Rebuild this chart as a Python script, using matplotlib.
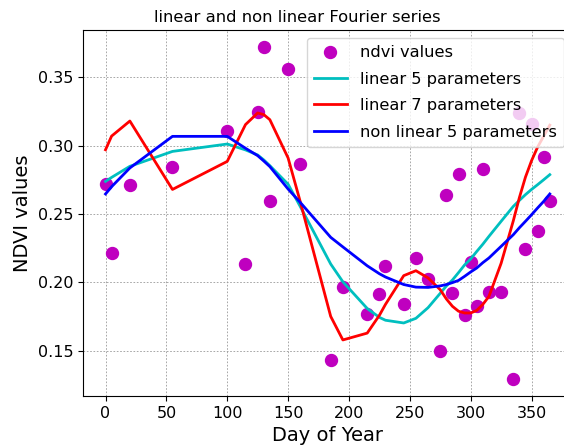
import matplotlib
matplotlib.use("Agg")
import matplotlib.pyplot as plt

days = [0, 5, 20, 55, 100, 115, 125, 130, 135, 150, 160, 185, 195, 215, 225, 230,
        245, 255, 265, 275, 280, 285, 290, 295, 300, 305, 310, 315, 325, 335, 340,
        345, 350, 355, 360, 365]

ndvi = [0.2718, 0.2213, 0.2713, 0.2847, 0.3107, 0.2135, 0.3249, 0.3724, 0.2598,
        0.3561, 0.2864, 0.1434, 0.1969, 0.1770, 0.1916, 0.2121, 0.1841, 0.2177,
        0.2026, 0.1499, 0.2640, 0.1921, 0.2791, 0.1762, 0.2148, 0.1826, 0.2827,
        0.1933, 0.1928, 0.1292, 0.3241, 0.2243, 0.3159, 0.2376, 0.2920, 0.2596]

linear5 = [0.2739, 0.2768, 0.2849, 0.2958, 0.3012, 0.2969, 0.2932, 0.2896, 0.2854,
           0.2718, 0.2555, 0.2135, 0.2005, 0.1810, 0.1745, 0.1724, 0.1704, 0.1738,
           0.1816, 0.1921, 0.1974, 0.2018, 0.2072, 0.2128, 0.2172, 0.2227, 0.2280,
           0.2337, 0.2447, 0.2556, 0.2600, 0.2642, 0.2680, 0.2715, 0.2751, 0.2788]

linear7 = [0.2970, 0.3070, 0.3180, 0.2680, 0.2885, 0.3154, 0.3239, 0.3227, 0.3190,
           0.2910, 0.2590, 0.1752, 0.1580, 0.1630, 0.1760, 0.1840, 0.2050, 0.2086,
           0.2033, 0.1947, 0.1880, 0.1826, 0.1790, 0.1777, 0.1777, 0.1796, 0.1840,
           0.1898, 0.2140, 0.2450, 0.2620, 0.2770, 0.2890, 0.2990, 0.3070, 0.3150]

nonlinear5 = [0.2647, 0.2700, 0.2837, 0.3068, 0.3068, 0.2981, 0.2927, 0.2888, 0.2847,
              0.2683, 0.2585, 0.2330, 0.2260, 0.2122, 0.2064, 0.2040, 0.1985, 0.1966,
              0.1964, 0.1975, 0.1985, 0.1999, 0.2015, 0.2045, 0.2077, 0.2106, 0.2145,
              0.2179, 0.2264, 0.2349, 0.2400, 0.2447, 0.2495, 0.2545, 0.2593, 0.2647]

fig = plt.figure(figsize=(5.64, 4.48), dpi=100)
ax = fig.add_axes([0.1477, 0.1161, 0.8665, 0.817])

ax.plot(days, ndvi, 'o', color='m', markersize=8.6, label='ndvi values')
ax.plot(days, linear5, color='c', lw=2, label='linear 5 parameters')
ax.plot(days, linear7, color='r', lw=2, label='linear 7 parameters')
ax.plot(days, nonlinear5, color='b', lw=2, label='non linear 5 parameters')

ax.grid(True, linestyle=(0, (2, 2)), linewidth=0.6, color='#999999')
ax.set_xticks([0, 50, 100, 150, 200, 250, 300, 350])
ax.set_yticks([0.15, 0.20, 0.25, 0.30, 0.35])
ax.tick_params(labelsize=11.5)
ax.spines['right'].set_visible(False)
ax.set_title('linear and non linear Fourier series', fontsize=11.8, x=0.437)
ax.set_xlabel('Day of Year', fontsize=14)
ax.set_ylabel('NDVI values', fontsize=14)
ax.legend(loc='upper right', fontsize=11.7, labelspacing=0.7, borderpad=0.45)

fig.savefig('out.png', dpi=100)
